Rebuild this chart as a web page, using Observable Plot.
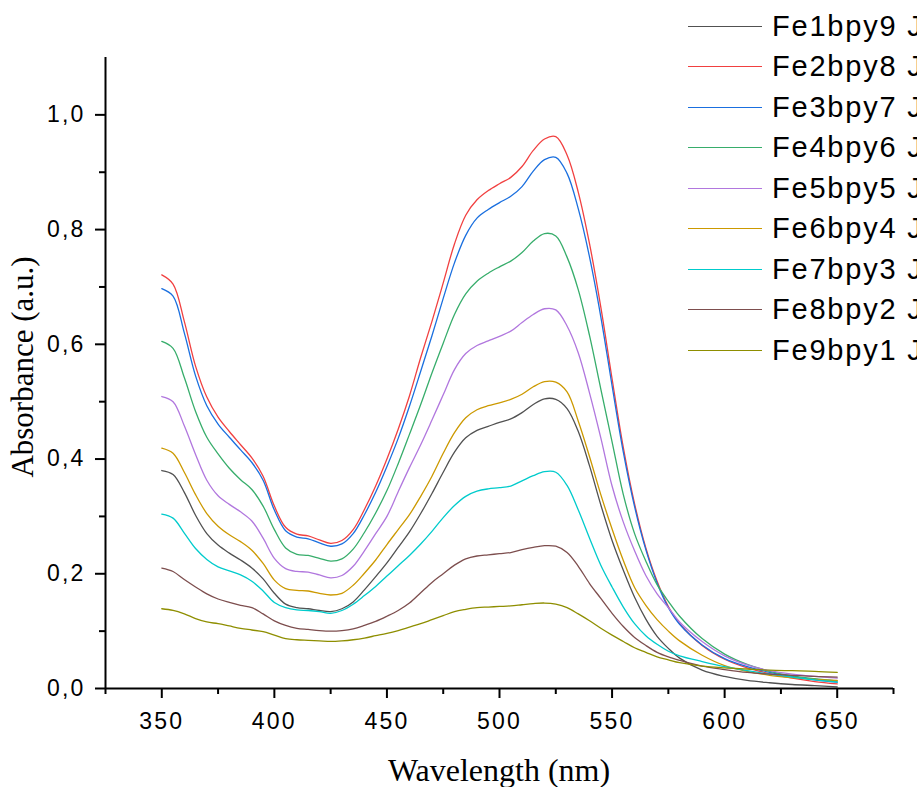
<!DOCTYPE html>
<html>
<head>
<meta charset="utf-8">
<script src="https://cdn.jsdelivr.net/npm/d3@7"></script>
<script src="https://cdn.jsdelivr.net/npm/@observablehq/plot@0.6"></script>
<style>
  html, body { margin: 0; padding: 0; background: #fff; overflow: hidden; }
  #chart { position: relative; width: 917px; height: 787px; overflow: hidden; background: #fff; }
  #chart svg text { letter-spacing: 2.2px; }
  .legend-row { position: absolute; display: flex; align-items: center; height: 40px; white-space: nowrap; }
  .legend-swatch { width: 74px; height: 0; margin-right: 10px; }
  .legend-label { font-family: "Liberation Sans", Arial, sans-serif; font-size: 29px; letter-spacing: 1.8px; color: #000; }
</style>
</head>
<body>
<div id="chart"></div>
<script>
// ---- data ----
const wavelengths = [350,355,360,365,370,375,380,385,390,395,
  400,405,410,415,420,425,430,435,440,445,
  450,455,460,465,470,475,480,485,490,495,
  500,505,510,515,520,525,530,535,540,545,
  550,555,560,565,570,575,580,
  590,600,610,620,630,640,650];

const seriesNames = ["Fe1bpy9 J","Fe2bpy8 J","Fe3bpy7 J","Fe4bpy6 J","Fe5bpy5 J","Fe6bpy4 J","Fe7bpy3 J","Fe8bpy2 J","Fe9bpy1 J"];
const seriesColors = ["#515151","#F14040","#1A6FDF","#37AD6B","#B177DE","#CC9900","#00CBCC","#7D4E4E","#8E8E00"];

const fe1bpy9 = [.380,.373,.342,.302,.270,.250,.236,.224,.210,.191,
  .166,.147,.141,.139,.136,.134,.139,.151,.172,.195,
  .219,.246,.273,.305,.340,.377,.412,.437,.450,.457,
  .464,.470,.481,.495,.505,.504,.488,.448,.388,.320,
  .258,.206,.159,.121,.091,.070,.053,
  .032,.021,.014,.010,.007,.005,.003];
const fe2bpy8 = [.721,.705,.640,.562,.508,.473,.448,.425,.402,.370,
  .318,.281,.269,.266,.259,.253,.258,.277,.312,.353,
  .400,.452,.510,.577,.640,.707,.775,.825,.852,.868,
  .880,.891,.910,.938,.958,.962,.930,.865,.775,.665,
  .540,.420,.322,.245,.187,.143,.113,
  .075,.051,.036,.026,.018,.012,.008];
const fe3bpy7 = [.697,.684,.620,.545,.493,.461,.438,.416,.394,.363,
  .311,.275,.264,.261,.254,.248,.252,.270,.303,.342,
  .387,.436,.492,.553,.615,.680,.742,.790,.820,.835,
  .847,.858,.875,.902,.922,.926,.898,.836,.752,.648,
  .528,.412,.317,.242,.184,.141,.112,
  .076,.052,.038,.028,.021,.015,.011];
const fe4bpy6 = [.605,.593,.542,.483,.438,.409,.384,.364,.347,.318,
  .277,.245,.234,.232,.227,.222,.226,.243,.272,.306,
  .345,.392,.443,.495,.550,.602,.652,.688,.710,.724,
  .735,.745,.760,.780,.793,.789,.752,.695,.615,.522,
  .430,.338,.270,.222,.181,.152,.126,
  .087,.060,.042,.030,.022,.017,.013];
const fe5bpy5 = [.509,.500,.458,.408,.363,.336,.321,.308,.292,.262,
  .227,.209,.204,.203,.198,.193,.197,.213,.240,.270,
  .300,.343,.385,.425,.468,.512,.556,.584,.598,.606,
  .614,.623,.638,.652,.662,.660,.632,.585,.515,.437,
  .353,.290,.240,.197,.165,.141,.116,
  .082,.057,.041,.031,.025,.021,.018];
const fe6bpy4 = [.419,.410,.377,.338,.305,.283,.268,.256,.241,.218,
  .189,.174,.171,.170,.166,.163,.166,.180,.201,.224,
  .251,.277,.303,.335,.370,.410,.446,.472,.486,.493,
  .498,.504,.513,.526,.535,.534,.517,.466,.404,.338,
  .278,.223,.176,.145,.120,.100,.083,
  .058,.040,.030,.023,.019,.016,.014];
const fe7bpy3 = [.304,.297,.271,.244,.225,.212,.205,.198,.187,.170,
  .150,.141,.137,.136,.134,.131,.136,.147,.162,.178,
  .196,.214,.232,.252,.274,.298,.319,.335,.344,.348,
  .350,.353,.362,.371,.378,.377,.354,.311,.262,.215,
  .177,.142,.113,.092,.077,.065,.057,
  .047,.038,.031,.025,.020,.015,.011];
const fe8bpy2 = [.210,.204,.190,.177,.165,.156,.150,.145,.141,.130,
  .118,.110,.105,.103,.101,.100,.101,.104,.110,.117,
  .126,.136,.149,.167,.185,.200,.215,.226,.231,.233,
  .235,.237,.242,.246,.249,.248,.237,.213,.183,.157,
  .131,.108,.089,.075,.063,.055,.049,
  .039,.033,.028,.025,.023,.021,.020];
const fe9bpy1 = [.139,.136,.130,.122,.116,.113,.109,.105,.102,.099,
  .093,.087,.085,.084,.083,.082,.083,.085,.088,.092,
  .096,.101,.107,.113,.120,.127,.134,.138,.141,.142,
  .143,.144,.146,.148,.149,.147,.141,.130,.118,.105,
  .093,.082,.071,.063,.055,.050,.045,
  .039,.036,.034,.032,.031,.030,.028];

const xDomain = [325, 675];
const yDomain = [0, 1.1];
const xTicks = [350, 400, 450, 500, 550, 600, 650];
const xMinorTicks = [325, 375, 425, 475, 525, 575, 625, 675];
const yTicks = [0, 0.2, 0.4, 0.6, 0.8, 1.0];
const yMinorTicks = [0.1, 0.3, 0.5, 0.7, 0.9];
const xTitle = "Wavelength (nm)";
const yTitle = "Absorbance (a.u.)";

// ---- build table ----
const allSeries = [fe1bpy9, fe2bpy8, fe3bpy7, fe4bpy6, fe5bpy5, fe6bpy4, fe7bpy3, fe8bpy2, fe9bpy1];
const table = allSeries.flatMap((vals, i) =>
  vals.map((v, j) => ({series: seriesNames[i], wavelength: wavelengths[j], absorbance: v})));

const W = 917, H = 787;
const margin = {left: 105, right: 24, top: 57, bottom: 99};

const plot = Plot.plot({
  width: W,
  height: H,
  marginLeft: margin.left,
  marginRight: margin.right,
  marginTop: margin.top,
  marginBottom: margin.bottom,
  style: {fontFamily: "'Liberation Sans', Arial, sans-serif", fontSize: "23px", color: "#000", background: "#fff", overflow: "visible"},
  x: {domain: xDomain, label: null},
  y: {domain: yDomain, label: null},
  color: {domain: seriesNames, range: seriesColors},
  marks: [
    Plot.line(table, {x: "wavelength", y: "absorbance", z: "series", stroke: "series", curve: "catmull-rom", strokeWidth: 1.3}),
    Plot.ruleY([0], {strokeWidth: 2}),
    Plot.ruleX([xDomain[0]], {strokeWidth: 2}),
    Plot.axisX({ticks: xTicks, tickSize: 10, tickPadding: 14, strokeWidth: 2, fontSize: 23, tickFormat: d => String(d), label: null}),
    Plot.axisX({ticks: xMinorTicks, tickSize: 6, strokeWidth: 2, tickFormat: () => "", label: null}),
    Plot.axisY({ticks: yTicks, tickSize: 10, tickPadding: 10, strokeWidth: 2, fontSize: 23, tickFormat: d => d.toFixed(1).replace(".", ","), label: null}),
    Plot.axisY({ticks: yMinorTicks, tickSize: 6, strokeWidth: 2, tickFormat: () => "", label: null})
  ]
});

const chart = document.getElementById("chart");
chart.appendChild(plot);

// axis titles
const svg = d3.select(plot);
svg.append("text")
  .attr("transform", `translate(33,367) rotate(-90)`)
  .attr("text-anchor", "middle")
  .style("font-family", "'Liberation Serif', 'Times New Roman', serif")
  .style("font-size", "31px")
  .style("letter-spacing", "0px")
  .text(yTitle);
svg.append("text")
  .attr("x", 499)
  .attr("y", 781)
  .attr("text-anchor", "middle")
  .style("font-family", "'Liberation Serif', 'Times New Roman', serif")
  .style("font-size", "32px")
  .style("letter-spacing", "0px")
  .text(xTitle);

// legend
seriesNames.forEach((name, i) => {
  const row = document.createElement("div");
  row.className = "legend-row";
  row.style.left = "688px";
  row.style.top = (26 + i * 40.5 - 20) + "px";
  const sw = document.createElement("span");
  sw.className = "legend-swatch";
  sw.style.borderTop = "1.5px solid " + seriesColors[i];
  const lb = document.createElement("span");
  lb.className = "legend-label";
  lb.textContent = name;
  row.appendChild(sw);
  row.appendChild(lb);
  chart.appendChild(row);
});
</script>
</body>
</html>
